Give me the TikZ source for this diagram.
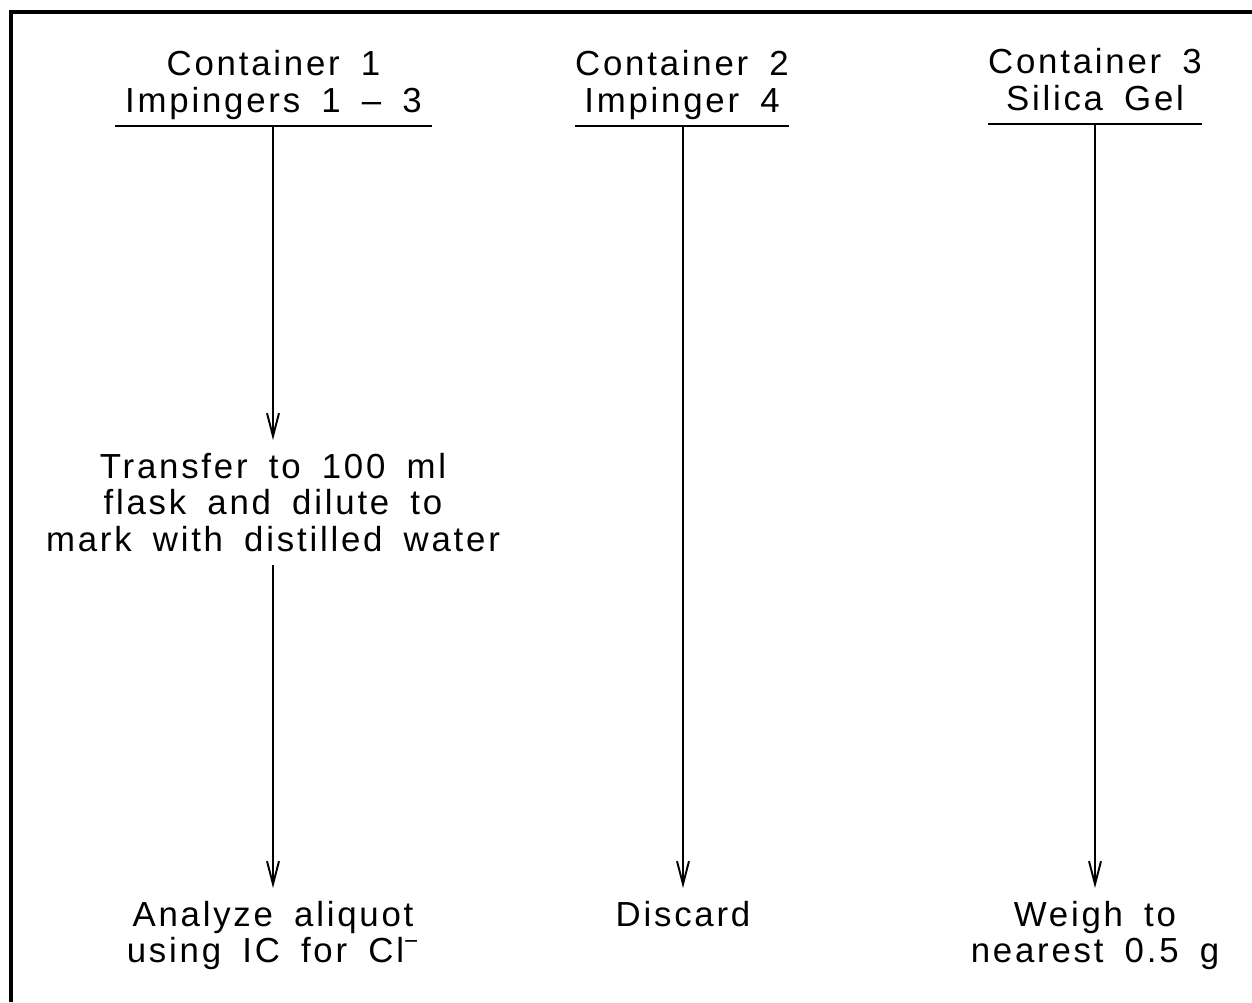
\documentclass[tikz,border=0pt]{standalone}
\usepackage{fontspec}
\usetikzlibrary{arrows.meta}
\newfontfamily\plotfont[LetterSpace=8,WordSpace=1.7]{Liberation Sans}

\begin{document}
\begin{tikzpicture}[
  every node/.style={font=\plotfont\fontsize{19.8}{21}\selectfont, align=center},
  head/.style={anchor=south, inner xsep=0pt, inner ysep=0.12cm, text depth=4.2pt},
  stage/.style={anchor=north, inner sep=0.25cm},
  flow/.style={line width=1.1pt, -{Straight Barb[length=0.46cm,width=0.24cm,line width=1.1pt]}}
]
\useasboundingbox (0,0) rectangle (25.04,-20.04);
\draw [line width=2pt] (0.22,-20.04) -- (0.22,-0.24) -- (25.04,-0.24);

% container headings
\node [head, minimum width=6.32cm] (c1) at (5.47,-2.52) {Container 1\\Impingers 1 \textendash\ 3};
\node [head, minimum width=4.16cm] (c2) at (13.64,-2.52) {Container 2\\Impinger 4};
\node [head, minimum width=4.2cm] (c3) at (21.9,-2.48) {Container 3\\Silica Gel};
\foreach \c in {c1,c2,c3}
  \draw [line width=1.1pt] (\c.south west) -- (\c.south east);

% steps
\node [stage] (dil) at (5.46,-8.8) {Transfer to 100 ml\\flask and dilute to\\mark with distilled water};
\node [stage] (ana) at (5.46,-17.76) {Analyze aliquot\\using IC for Cl\textsuperscript{−}};
\node [stage] (dis) at (13.66,-17.76) {Discard};
\node [stage] (wei) at (21.9,-17.76) {Weigh to\\nearest 0.5 g};

\draw [flow] (c1.south -| dil) -- (dil.north);
\draw [flow] (dil.south) -- (ana.north);
\draw [flow] (c2.south -| dis) -- (dis.north);
\draw [flow] (c3.south -| wei) -- (wei.north);
\end{tikzpicture}
\end{document}
